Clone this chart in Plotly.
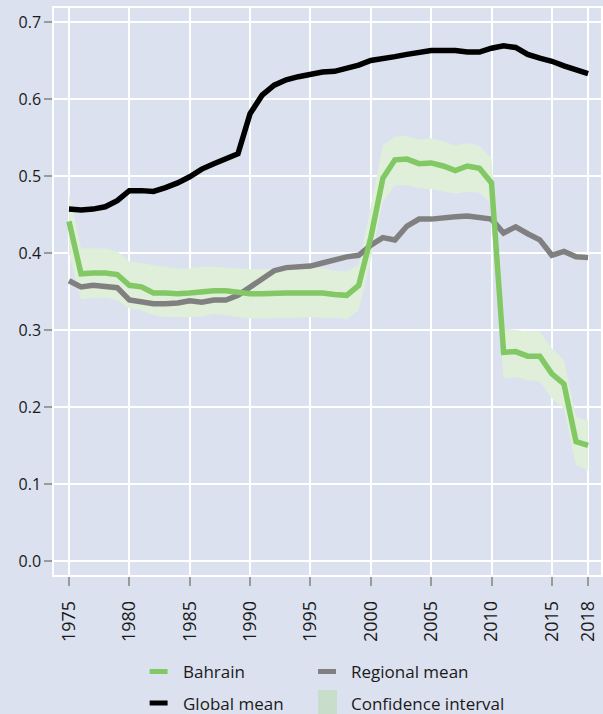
import plotly.graph_objects as go

# ---- data -------------------------------------------------------------
years = list(range(1975, 2019))

bahrain = [0.441, 0.373, 0.374, 0.374, 0.372, 0.358, 0.356, 0.348, 0.348, 0.347,
           0.348, 0.350, 0.351, 0.351, 0.349, 0.347, 0.347, 0.348, 0.348, 0.348,
           0.348, 0.348, 0.346, 0.345, 0.358, 0.420, 0.497, 0.521, 0.522, 0.516,
           0.517, 0.513, 0.507, 0.513, 0.510, 0.491, 0.271, 0.272, 0.266, 0.266,
           0.243, 0.230, 0.155, 0.150]

ci_upper = [0.478, 0.406, 0.406, 0.406, 0.402, 0.389, 0.387, 0.384, 0.382, 0.380,
            0.380, 0.382, 0.382, 0.381, 0.380, 0.379, 0.379, 0.379, 0.379, 0.380,
            0.382, 0.380, 0.377, 0.376, 0.385, 0.460, 0.540, 0.551, 0.552, 0.547,
            0.549, 0.545, 0.540, 0.543, 0.539, 0.523, 0.302, 0.300, 0.298, 0.298,
            0.276, 0.261, 0.187, 0.182]

ci_lower = [0.400, 0.340, 0.342, 0.342, 0.339, 0.328, 0.326, 0.319, 0.317, 0.317,
            0.317, 0.318, 0.321, 0.319, 0.317, 0.315, 0.315, 0.316, 0.316, 0.316,
            0.317, 0.316, 0.316, 0.314, 0.326, 0.391, 0.467, 0.488, 0.488, 0.484,
            0.483, 0.480, 0.477, 0.480, 0.478, 0.465, 0.237, 0.239, 0.235, 0.233,
            0.211, 0.198, 0.125, 0.118]

regional_mean = [0.364, 0.356, 0.358, 0.357, 0.355, 0.339, 0.336, 0.334, 0.334, 0.335,
                 0.338, 0.336, 0.339, 0.339, 0.345, 0.356, 0.366, 0.377, 0.381, 0.382,
                 0.383, 0.387, 0.391, 0.395, 0.397, 0.410, 0.420, 0.417, 0.435, 0.444,
                 0.444, 0.446, 0.447, 0.448, 0.446, 0.444, 0.426, 0.434, 0.425, 0.417,
                 0.397, 0.402, 0.395, 0.394]

global_mean = [0.457, 0.456, 0.457, 0.460, 0.468, 0.481, 0.481, 0.480, 0.485, 0.491,
               0.499, 0.509, 0.516, 0.522, 0.529, 0.581, 0.605, 0.618, 0.625, 0.629,
               0.632, 0.635, 0.636, 0.640, 0.644, 0.650, 0.652, 0.655, 0.658, 0.661,
               0.663, 0.663, 0.663, 0.661, 0.661, 0.666, 0.669, 0.667, 0.658, 0.653,
               0.649, 0.643, 0.638, 0.633]

tick_years = [1975, 1980, 1985, 1990, 1995, 2000, 2005, 2010, 2015, 2018]
y_ticks = [0.0, 0.1, 0.2, 0.3, 0.4, 0.5, 0.6, 0.7]

legend_labels = ["Bahrain", "Regional mean", "Global mean", "Confidence interval"]

# ---- styling ----------------------------------------------------------
BG = "#dce1ef"
GREEN = "#82c865"
GREY = "#808080"
BLACK = "#000000"
BAND = "#dfefd9"
BAND_KEY = "#c9ddcb"
FONT = "Open Sans"

W, H = 603, 714
M_L, M_T, M_R, M_B = 54, 8, 0, 139
PLOT_W = W - M_L - M_R
PLOT_H = H - M_T - M_B

fig = go.Figure()

# confidence band (lower edge first, then fill up to the upper edge)
fig.add_trace(go.Scatter(x=years, y=ci_lower, mode="lines",
                         line=dict(width=0, color=BAND), hoverinfo="skip",
                         showlegend=False))
fig.add_trace(go.Scatter(x=years, y=ci_upper, mode="lines", fill="tonexty",
                         fillcolor=BAND, line=dict(width=0, color=BAND),
                         showlegend=False))

fig.add_trace(go.Scatter(x=years, y=regional_mean, mode="lines",
                         line=dict(color=GREY, width=5.5), showlegend=False))
fig.add_trace(go.Scatter(x=years, y=global_mean, mode="lines",
                         line=dict(color=BLACK, width=5.5), showlegend=False))
fig.add_trace(go.Scatter(x=years, y=bahrain, mode="lines",
                         line=dict(color=GREEN, width=5.5), showlegend=False))


# ---- legend built from shapes and annotations -------------------------
def px_x(px):
    return (px - M_L) / PLOT_W


def px_y(py):
    return (M_T + PLOT_H - py) / PLOT_H


key_cols = [150, 319]      # left edge of legend keys
text_cols = [181, 350]     # left edge of legend labels
rows = [671.5, 703]        # vertical centre of each legend row
key_styles = [("line", GREEN), ("line", GREY), ("line", BLACK), ("box", BAND_KEY)]

shapes = []
annotations = []
for i, (label, (kind, color)) in enumerate(zip(legend_labels, key_styles)):
    row, col = divmod(i, 2)
    yc = rows[row]
    x0 = key_cols[col]
    if kind == "line":
        shapes.append(dict(type="line", xref="paper", yref="paper",
                           x0=px_x(x0), x1=px_x(x0 + 18),
                           y0=px_y(yc), y1=px_y(yc),
                           line=dict(color=color, width=5)))
    else:
        shapes.append(dict(type="rect", xref="paper", yref="paper",
                           x0=px_x(x0), x1=px_x(x0 + 19),
                           y0=px_y(yc - 13), y1=px_y(yc + 14),
                           fillcolor=color, line=dict(width=0)))
    annotations.append(dict(text=label, xref="paper", yref="paper",
                            x=px_x(text_cols[col]), y=px_y(yc),
                            xanchor="left", yanchor="middle", showarrow=False,
                            font=dict(family=FONT, size=17, color="#1a1a1a")))

fig.update_layout(
    width=W, height=H,
    margin=dict(l=M_L, r=M_R, t=M_T, b=M_B, pad=0),
    paper_bgcolor=BG, plot_bgcolor=BG,
    font=dict(family=FONT, color="#1a1a1a"),
    showlegend=False,
    shapes=shapes,
    annotations=annotations,
)

fig.update_xaxes(
    range=[1973.76, 2019.07],
    tickmode="array", tickvals=tick_years, ticktext=[str(y) for y in tick_years],
    tickangle=-90, tickfont=dict(size=18, family=FONT),
    ticks="outside", ticklen=9, tickwidth=1.5, tickcolor="#9a9a9a",
    ticklabelstandoff=8,
    showgrid=True, gridcolor="white", gridwidth=1.5,
    showline=True, linecolor="white", linewidth=1.5, mirror=True,
    zeroline=False,
)
fig.update_yaxes(
    range=[-0.0182, 0.7182],
    tickmode="array", tickvals=y_ticks, ticktext=[f"{v:.1f}" for v in y_ticks],
    tickfont=dict(size=16, family=FONT),
    ticks="outside", ticklen=8, tickwidth=1.5, tickcolor="#9a9a9a",
    showgrid=True, gridcolor="white", gridwidth=1.5,
    showline=True, linecolor="white", linewidth=1.5, mirror=True,
    zeroline=False,
)

fig.write_html("out.html")
